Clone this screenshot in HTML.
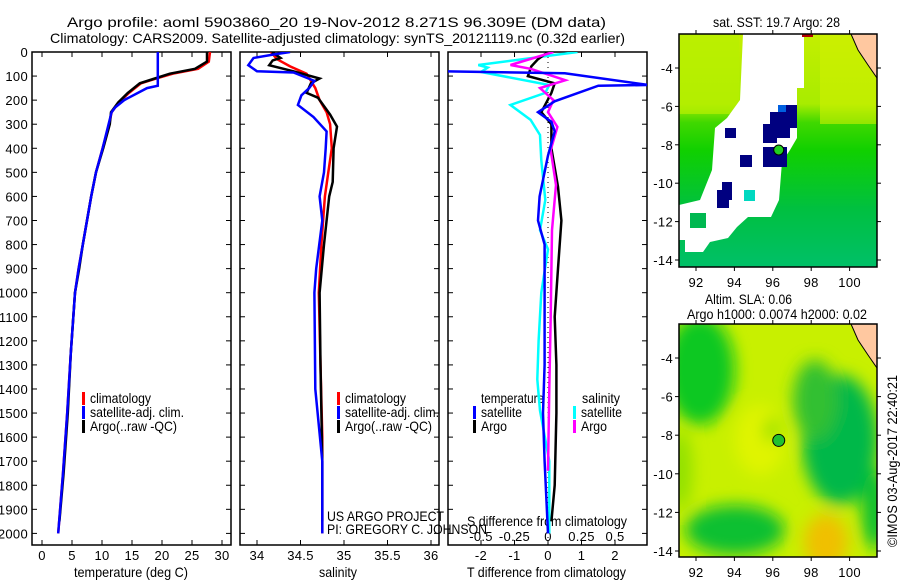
<!DOCTYPE html>
<html><head><meta charset="utf-8"><style>
body{margin:0;background:#fff}
svg{display:block;font-family:"Liberation Sans",sans-serif;font-size:14px}
.tk{font-size:13px;letter-spacing:0.3px}
</style></head><body>
<svg id="c" width="900" height="580" viewBox="0 0 900 580">
<defs>
<filter id="blur" x="-20%" y="-20%" width="140%" height="140%"><feGaussianBlur stdDeviation="8"/></filter>
<clipPath id="cp1"><rect x="32" y="52" width="199" height="493"/></clipPath>
<clipPath id="cp2"><rect x="240" y="52" width="199" height="493"/></clipPath>
<clipPath id="cp3"><rect x="448" y="52" width="199" height="493"/></clipPath>
<clipPath id="cpm1"><rect x="679" y="34" width="198" height="233"/></clipPath>
<clipPath id="cpm2"><rect x="679" y="324" width="198" height="233"/></clipPath>
<linearGradient id="sstg" x1="0" y1="0" x2="0" y2="1">
<stop offset="0" stop-color="#c4ee00"/><stop offset="0.3" stop-color="#a8ec00"/><stop offset="0.38" stop-color="#40d800"/><stop offset="0.5" stop-color="#10d000"/><stop offset="0.75" stop-color="#00c040"/><stop offset="1" stop-color="#00c068"/></linearGradient>
</defs>
<text x="67" y="27" textLength="539" lengthAdjust="spacingAndGlyphs">Argo profile: aoml 5903860_20 19-Nov-2012 8.271S 96.309E (DM data)</text>
<text x="50" y="43" textLength="575" lengthAdjust="spacingAndGlyphs">Climatology: CARS2009. Satellite-adjusted climatology: synTS_20121119.nc (0.32d earlier)</text>
<g id="axes"></g>
<g id="series"></g>
<g id="maps"></g>
</svg>
<script>
// ---- data ----
const depthTicks=[0,100,200,300,400,500,600,700,800,900,1000,1100,1200,1300,1400,1500,1600,1700,1800,1900,2000];
const tempTicks=[0,5,10,15,20,25,30];
const salTicks=[34,34.5,35,35.5,36];
const tdiffTicks=[-2,-1,0,1,2];
const sdiffTicks=[-0.5,-0.25,0,0.25,0.5];
const sdiffLabels=["-0.5","-0.25","0","0.25","0.5"];
const lonTicks=[92,94,96,98,100];
const latTicks=[-4,-6,-8,-10,-12,-14];

const tClimD=[0,40,70,90,110,130,170,210,250,300,400,500,600,700,800,900,1000,1250,1500,1750,2000];
const tClimV=[28,27.8,26,21.8,19,16.5,14.5,12.8,11.6,11.2,10.1,9,8.2,7.5,6.8,6.1,5.5,4.8,4.2,3.5,2.7];
const tArgoD=[0,40,70,90,110,130,170,210,250,300,400,500,600,700,800,900,1000,1250,1500,1750,1950];
const tArgoV=[27.5,27.5,25.5,21.3,18.8,16.3,14.3,12.7,11.5,11.3,10.2,9,8.2,7.5,6.8,6.2,5.5,4.8,4.3,3.6,2.9];
const tSatD=[0,140,150,200,230,250,300,400,500,600,700,800,900,1000,1250,1500,1750,2000];
const tSatV=[19.3,19.3,17.5,13.7,12.2,11.6,11.1,10.1,9,8.2,7.5,6.8,6.1,5.5,4.8,4.2,3.5,2.7];

const sClimD=[0,30,60,90,150,200,250,300,400,500,600,700,800,1000,1300,1600,2000];
const sClimV=[34.16,34.23,34.38,34.57,34.67,34.72,34.8,34.84,34.86,34.82,34.78,34.76,34.74,34.71,34.73,34.75,34.75];
const sArgoD=[0,25,35,55,80,110,130,170,190,260,310,400,540,600,800,1000,1300,1700,1950];
const sArgoV=[34.17,34.27,34.18,34.14,34.42,34.72,34.62,34.57,34.7,34.84,34.92,34.88,34.87,34.83,34.77,34.72,34.73,34.75,34.75];
const sSatD=[0,10,25,55,80,85,120,150,180,220,270,330,400,500,600,700,900,1000,1400,1700,2000];
const sSatV=[34.38,34.2,33.96,33.9,34.0,34.42,34.66,34.6,34.51,34.47,34.65,34.8,34.79,34.77,34.72,34.75,34.68,34.66,34.67,34.75,34.75];

const tdSatD=[80,88,137,140,205,250,290,330,430,600,700,800,1000,1300,1500,1700,2000];
const tdSatV=[-3.2,0.5,3.0,1.5,0.2,-0.3,0.1,0.2,0,-0.25,-0.3,-0.1,-0.1,-0.1,-0.15,-0.1,0];
const tdArgoD=[0,30,60,100,130,170,250,300,400,560,700,900,1100,1300,1500,1800,1950];
const tdArgoV=[0,-0.3,-0.5,-0.6,0.2,0.1,-0.2,0.1,0.1,0.3,0.4,0.3,0.2,0.25,0.25,0.2,0.1];
const sdSatD=[0,54,65,83,137,170,220,282,345,450,615,740,820,1000,1200,1360,1490,1700,2000];
const sdSatV=[0.22,-0.52,-0.45,-0.5,0.01,-0.02,-0.28,-0.13,-0.06,-0.05,-0.02,-0.06,0,-0.05,-0.07,-0.08,-0.06,0.01,0.01];
const sdArgoD=[0,54,70,117,150,200,250,311,407,553,740,1100,1400,1740];
const sdArgoV=[0.04,-0.28,-0.13,0.13,-0.06,0.04,0,0.07,0.02,0.06,0.03,0.02,0.01,0];

// ---- scales ----
const yD=d=>52+d*0.2407;
const xT=v=>42+v*6;
const xS=v=>257+(v-34)*87;
const xTD=v=>548+v*33.5;
const xSD=v=>548+v*134;
const mx=lon=>696+(lon-92)*19.2;
const my1=lat=>68+(-4-lat)*19.2;
const my2=lat=>358+(-4-lat)*19.3;

const NS='http://www.w3.org/2000/svg';
function mk(tag,attrs,parent,text){const e=document.createElementNS(NS,tag);for(const k in attrs)e.setAttribute(k,attrs[k]);if(text!==undefined)e.textContent=text;parent.appendChild(e);return e;}
const axes=document.getElementById('axes');
const series=document.getElementById('series');
const maps=document.getElementById('maps');
function txt(parent,x,y,s,len,name){
  const t=mk('text',{x:x,y:y,textLength:len,lengthAdjust:'spacingAndGlyphs'},parent,s);
  
  
  return t;
}

const panels=[[32,'temperature-panel'],[240,'salinity-panel'],[448,'difference-panel']];
panels.forEach(([x0,nm])=>{
  const r=mk('rect',{x:x0,y:52,width:199,height:493,fill:'none',stroke:'#000','stroke-width':1.5},axes);
  
  
  depthTicks.forEach(d=>{
    mk('line',{x1:x0,x2:x0+5,y1:yD(d),y2:yD(d),stroke:'#000'},axes);
    mk('line',{x1:x0+199,x2:x0+194,y1:yD(d),y2:yD(d),stroke:'#000'},axes);
  });
});
depthTicks.forEach(d=>{
  const t=mk('text',{x:28,y:yD(d)+5,'text-anchor':'end',class:'tk'},axes,String(d));
  
  
});
function xticks(ticks,labels,f,name){
  ticks.forEach((v,i)=>{
    const x=f(v);
    mk('line',{x1:x,x2:x,y1:52,y2:57,stroke:'#000'},axes);
    mk('line',{x1:x,x2:x,y1:545,y2:540,stroke:'#000'},axes);
    const t=mk('text',{x:x,y:560,'text-anchor':'middle',class:'tk'},axes,labels[i]);
    
    
  });
}
xticks(tempTicks,tempTicks.map(String),xT,'temperature-tick-label');
xticks(salTicks,salTicks.map(String),xS,'salinity-tick-label');
xticks(tdiffTicks,tdiffTicks.map(String),xTD,'t-diff-tick-label');
sdiffTicks.forEach((v,i)=>{
  const t=mk('text',{x:xSD(v),y:541,'text-anchor':'middle',class:'tk'},axes,sdiffLabels[i]);
  
  
});
txt(axes,74,577,'temperature (deg C)',114,'temperature-axis-title');
txt(axes,319,577,'salinity',38,'salinity-axis-title');
txt(axes,467,577,'T difference from climatology',159,'t-diff-axis-title');
txt(axes,467,526,'S difference from climatology',160,'s-diff-axis-title');
let zl=mk('line',{x1:548,x2:548,y1:52,y2:545,stroke:'#000','stroke-dasharray':'1,4'},axes);



function line(D,V,fx,color,clip,name){
  const pts=D.map((d,i)=>fx(V[i]).toFixed(1)+','+yD(d).toFixed(1)).join(' ');
  const p=mk('polyline',{points:pts,fill:'none',stroke:color,'stroke-width':2.5,'clip-path':'url(#'+clip+')'},series);
  
  
}
line(tClimD,tClimV,xT,'#f00','cp1','temp-climatology-line');
line(tArgoD,tArgoV,xT,'#000','cp1','temp-argo-line');
line(tSatD,tSatV,xT,'#00f','cp1','temp-satellite-line');
line(sClimD,sClimV,xS,'#f00','cp2','sal-climatology-line');
line(sArgoD,sArgoV,xS,'#000','cp2','sal-argo-line');
line(sSatD,sSatV,xS,'#00f','cp2','sal-satellite-line');
line(sdSatD,sdSatV,xSD,'#0ff','cp3','s-diff-satellite-line');
line(tdArgoD,tdArgoV,xTD,'#000','cp3','t-diff-argo-line');
line(sdArgoD,sdArgoV,xSD,'#f0f','cp3','s-diff-argo-line');
line(tdSatD,tdSatV,xTD,'#00f','cp3','t-diff-satellite-line');

function leg(x,y,color,label,len){
  const g=mk('g',{},axes);
  
  
  mk('rect',{x:x,y:y-11,width:3,height:13,fill:color},g);
  mk('text',{x:x+8,y:y,textLength:len,lengthAdjust:'spacingAndGlyphs'},g,label);
}
leg(82,403,'#f00','climatology',61);leg(82,417,'#00f','satellite-adj. clim.',94);leg(82,431,'#000','Argo(..raw -QC)',87);
leg(337,403,'#f00','climatology',61);leg(337,417,'#00f','satellite-adj. clim.',94);leg(337,431,'#000','Argo(..raw -QC)',87);
txt(axes,481,403,'temperature',63,'legend-temperature-heading');
txt(axes,582,403,'salinity',38,'legend-salinity-heading');
leg(473,417,'#00f','satellite',41);leg(473,431,'#000','Argo',26);leg(573,417,'#0ff','satellite',41);leg(573,431,'#f0f','Argo',26);
txt(axes,327,521,'US ARGO PROJECT',117,'project-credit');
txt(axes,327,534,'PI: GREGORY C. JOHNSON',160,'pi-credit');

// ---- maps ----
const m1=mk('g',{'clip-path':'url(#cpm1)'},maps);


mk('rect',{x:679,y:34,width:198,height:233,fill:'url(#sstg)'},m1);
mk('rect',{x:679,y:34,width:60,height:80,fill:'#b8f000',opacity:0.7},m1);
mk('rect',{x:820,y:34,width:57,height:90,fill:'#d0f000',opacity:0.6},m1);
mk('polygon',{points:'743,34 804,34 804,88 797,88 797,138 790,150 782,162 779,200 771,217 748,217 737,227 728,238 710,242 703,252 685,252 685,240 679,240 679,205 700,200 712,170 715,128 727,118 740,100',fill:'#fff'},m1);
mk('rect',{x:690,y:213,width:16,height:15,fill:'#00b850'},m1);
[[786,105,11,23],[770,112,20,26],[763,124,14,19],[725,128,11,10],[740,155,12,12],[763,147,24,20],[722,182,10,18],[717,190,12,18]].forEach(r=>mk('rect',{x:r[0],y:r[1],width:r[2],height:r[3],fill:'#000080'},m1));
mk('rect',{x:778,y:105,width:8,height:7,fill:'#0060e0'},m1);
mk('rect',{x:744,y:190,width:11,height:11,fill:'#00d8c0'},m1);
mk('rect',{x:802,y:34,width:11,height:3,fill:'#b00000'},m1);
mk('path',{d:'M851,34 L877,34 L877,78 L868,65 L858,50 Z',fill:'#ffc8a0',stroke:'#000','stroke-width':1},m1);
mk('circle',{cx:mx(96.309),cy:my1(-8.271),r:5,fill:'#20d020',stroke:'#000','stroke-width':1},m1);
const m2=mk('g',{'clip-path':'url(#cpm2)'},maps);


mk('rect',{x:679,y:324,width:198,height:233,fill:'#c8f000'},m2);
const bl=mk('g',{filter:'url(#blur)'},m2);
[[700,370,35,55,'#10c820'],[840,440,38,65,'#00b848'],[815,400,22,40,'#30c030'],[735,530,50,25,'#10c030'],[875,510,14,40,'#10c030'],[826,542,22,28,'#f0c000'],[760,440,25,35,'#e0f400'],[772,430,8,12,'#90e000'],[680,470,12,40,'#90e000']].forEach(e=>mk('ellipse',{cx:e[0],cy:e[1],rx:e[2],ry:e[3],fill:e[4]},bl));
mk('path',{d:'M851,324 L877,324 L877,368 L868,355 L858,340 Z',fill:'#ffc8a0',stroke:'#000','stroke-width':1},m2);
mk('circle',{cx:mx(96.309),cy:my2(-8.271),r:6,fill:'#20c030',stroke:'#000','stroke-width':1},m2);
function mapAxes(y0,my,tag){
  const r=mk('rect',{x:679,y:y0,width:198,height:233,fill:'none',stroke:'#000','stroke-width':1.5},maps);
  
  
  lonTicks.forEach(l=>{const x=mx(l);
    mk('line',{x1:x,x2:x,y1:y0,y2:y0-4,stroke:'#000'},maps);
    mk('line',{x1:x,x2:x,y1:y0+233,y2:y0+237,stroke:'#000'},maps);
    const t=mk('text',{x:x,y:y0+253,'text-anchor':'middle',class:'tk'},maps,String(l));
    });
  latTicks.forEach(l=>{const y=my(l);
    mk('line',{x1:679,x2:675,y1:y,y2:y,stroke:'#000'},maps);
    mk('line',{x1:877,x2:881,y1:y,y2:y,stroke:'#000'},maps);
    const t=mk('text',{x:673,y:y+5,'text-anchor':'end',class:'tk'},maps,String(l));
    });
}
mapAxes(34,my1,'sst-map');mapAxes(324,my2,'sla-map');
txt(maps,713,27,'sat. SST: 19.7 Argo: 28',127,'sst-map-title');
txt(maps,705,304,'Altim. SLA: 0.06',87,'sla-map-title');
txt(maps,687,319,'Argo h1000: 0.0074 h2000: 0.02',180,'sla-map-subtitle');
let it=mk('text',{x:0,y:0,textLength:172,lengthAdjust:'spacingAndGlyphs',transform:'translate(897,547) rotate(-90)'},maps,'©IMOS 03-Aug-2017 22:40:21');


</script>
</body></html>
